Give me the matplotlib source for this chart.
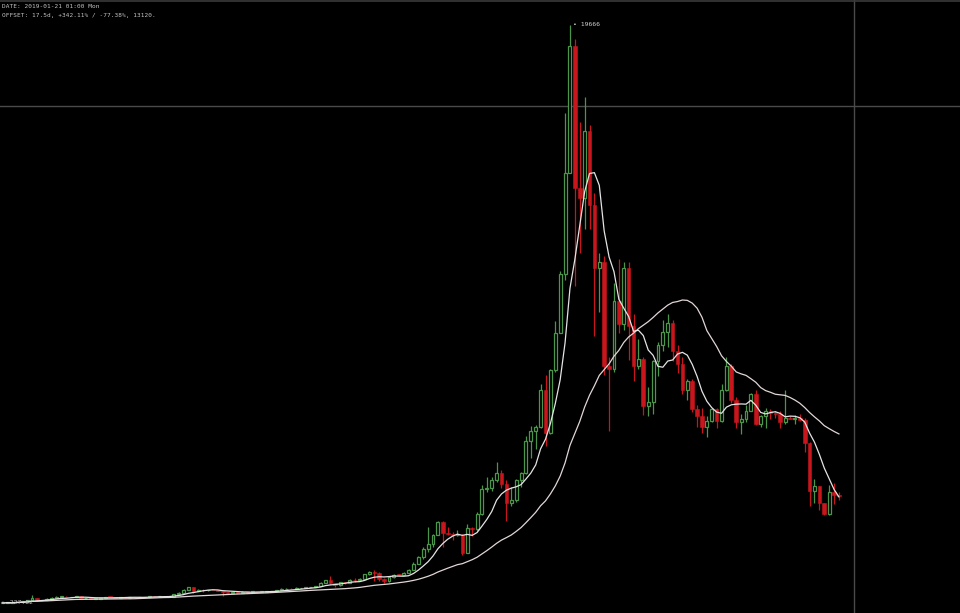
import matplotlib
matplotlib.use("Agg")
import matplotlib.pyplot as plt
import numpy as np
import pandas as pd

# Weekly candles, first week 2015-09-21, last week 2018-12-31
opens = [231, 234, 238, 247, 262, 285, 325, 385, 325, 323, 370, 395, 435, 440, 422,
         431, 447, 380, 402, 368, 375, 405, 437, 432, 405, 413, 410, 425, 420, 421,
         428, 460, 450, 458, 455, 440, 528, 575, 670, 760, 630, 660, 650, 680, 660,
         625, 590, 570, 580, 572, 608, 605, 608, 602, 612, 615, 640, 655, 700, 710,
         700, 730, 732, 765, 770, 790, 890, 1000, 905, 820, 920, 915, 1015, 1000, 1050,
         1190, 1270, 1230, 1020, 965, 1090, 1180, 1175, 1240, 1345, 1550, 1760, 2050, 2200, 2520,
         2950, 2570, 2550, 2500, 2510, 1920, 2750, 2720, 3220, 4060, 4090, 4360, 4600, 4220, 3600,
         3700, 4380, 4600, 5680, 6000, 6150, 7400, 5950, 8050, 9300, 11300, 14700, 18950, 14200, 13850,
         16100, 13600, 11500, 11700, 8200, 8100, 10400, 9600, 11500, 9550, 8200, 8450, 6850, 7000, 8350,
         8900, 9350, 9650, 8700, 8250, 7400, 7680, 6750, 6500, 6150, 6350, 6750, 6350, 7400, 8200,
         7050, 6300, 6400, 6700, 7250, 6250, 6500, 6700, 6620, 6600, 6300, 6450, 6420, 6450, 6380,
         5600, 4000, 4150, 3580, 3220, 3950, 3850]
highs = [236, 241, 250, 272, 290, 335, 500, 390, 340, 380, 420, 465, 470, 460, 435,
         458, 450, 410, 402, 380, 405, 445, 440, 440, 420, 418, 420, 425, 425, 432,
         465, 470, 465, 462, 456, 535, 585, 700, 780, 770, 705, 690, 680, 680, 660,
         625, 600, 590, 585, 615, 630, 612, 610, 615, 620, 645, 660, 720, 745, 740,
         755, 745, 775, 780, 800, 935, 1000, 1150, 910, 930, 930, 1040, 1065, 1070, 1200,
         1290, 1330, 1260, 1060, 1100, 1210, 1210, 1270, 1370, 1600, 1800, 2100, 2790, 2550, 2980,
         2975, 2780, 2600, 2670, 2540, 2900, 2800, 3290, 4200, 4480, 4460, 4980, 4700, 4350, 4120,
         4400, 4620, 5850, 6190, 6200, 7600, 7900, 8100, 9700, 11400, 16700, 19666, 19200, 16400, 17250,
         16300, 14000, 12000, 11900, 8500, 11000, 11800, 11700, 11700, 9950, 9100, 8500, 7500, 8400, 9000,
         9750, 9950, 9750, 8900, 8500, 7750, 7750, 6900, 6800, 6500, 6800, 6800, 7600, 8500, 8250,
         7150, 6600, 6900, 7300, 7400, 6550, 6800, 6750, 6700, 6700, 7400, 6500, 6550, 6600, 6450,
         5650, 4400, 4150, 3600, 4200, 4250, 3950]
lows = [227.82, 233, 236, 245, 260, 280, 320, 300, 310, 315, 355, 390, 430, 415, 420,
        425, 365, 370, 365, 365, 370, 400, 415, 400, 400, 405, 408, 410, 415, 418,
        425, 440, 440, 445, 435, 435, 515, 570, 650, 550, 620, 610, 645, 650, 620,
        480, 565, 565, 565, 565, 600, 600, 590, 600, 605, 612, 630, 650, 680, 700,
        695, 725, 725, 750, 765, 788, 885, 880, 750, 815, 880, 910, 920, 980, 1050,
        1170, 980, 960, 890, 930, 1080, 1160, 1170, 1230, 1340, 1530, 1700, 1950, 2100, 2500,
        2100, 2500, 2330, 2480, 1840, 1920, 2480, 2650, 3200, 3950, 3990, 4300, 4100, 2980, 3500,
        3630, 4140, 4550, 5100, 5400, 6100, 5500, 5900, 8000, 9300, 11100, 14700, 10900, 12000, 12800,
        12800, 9200, 10000, 7900, 6000, 8000, 9300, 9400, 8400, 7700, 8100, 6550, 6500, 6600, 7850,
        8700, 8850, 8350, 7950, 7250, 7050, 6650, 6150, 5950, 5800, 6300, 6100, 6300, 7350, 6950,
        6100, 5900, 6300, 6700, 6200, 6150, 6100, 6400, 6450, 6100, 6250, 6400, 6250, 6350, 5300,
        3500, 3600, 3350, 3200, 3200, 3550, 3700]
closes = [234, 238, 247, 262, 285, 325, 385, 325, 323, 370, 395, 435, 440, 422, 431,
          447, 380, 402, 368, 375, 405, 437, 432, 405, 413, 410, 425, 420, 421, 428,
          460, 450, 458, 455, 440, 528, 575, 670, 760, 630, 660, 650, 680, 660, 625,
          590, 570, 580, 572, 608, 605, 608, 602, 612, 615, 640, 655, 700, 710, 700,
          730, 732, 765, 770, 790, 890, 1000, 905, 820, 920, 915, 1015, 1000, 1050, 1190,
          1270, 1230, 1020, 965, 1090, 1180, 1175, 1240, 1345, 1550, 1760, 2050, 2200, 2520, 2950,
          2570, 2550, 2500, 2510, 1920, 2750, 2720, 3220, 4060, 4090, 4360, 4600, 4220, 3600, 3700,
          4380, 4600, 5680, 6000, 6150, 7400, 5950, 8050, 9300, 11300, 14700, 18950, 14200, 13850, 16100,
          13600, 11500, 11700, 8200, 8100, 10400, 9600, 11500, 9550, 8200, 8450, 6850, 7000, 8350, 8900,
          9350, 9650, 8700, 8250, 7400, 7680, 6750, 6500, 6150, 6350, 6750, 6350, 7400, 8200, 7050,
          6300, 6400, 6700, 7250, 6250, 6500, 6700, 6620, 6600, 6300, 6450, 6420, 6450, 6380, 5600,
          4000, 4150, 3580, 3220, 3950, 3850, 3820]

fast_window = 7
slow_window = 28
peak_label = "19666"
low_label = "227.82"
info_lines = ["DATE: 2019-01-21 01:00 Mon",
              "OFFSET: 17.5d, +342.11% / -77.38%, 13120."]
cross_week = 174      # crosshair position (week index)
cross_price = 16930   # crosshair level

o = np.array(opens, float); h = np.array(highs, float)
l = np.array(lows, float); c = np.array(closes, float)
n = len(c)
x = np.arange(n)

fast = pd.Series(c).rolling(fast_window, min_periods=1).mean()
slow = pd.Series(c).rolling(slow_window, min_periods=1).mean()

fig = plt.figure(figsize=(9.6, 6.13), dpi=100, facecolor="black")
ax = fig.add_axes([0, 0, 1, 1])
ax.set_facecolor("black")
ax.set_xlim(-0.55, 195.76)
ax.set_ylim(-108.5, 20506)
ax.axis("off")

GREEN = "#4a964a"
RED = "#c8161c"
w = 0.6
up = c >= o
# wicks
ax.vlines(x[up], l[up], h[up], color=GREEN, lw=0.9, zorder=2)
ax.vlines(x[~up], l[~up], h[~up], color=RED, lw=0.9, zorder=2)
# bodies
bh = np.maximum(np.abs(c - o), 15)
ax.bar(x[up], bh[up], bottom=np.minimum(o, c)[up], width=w, facecolor="black",
       edgecolor=GREEN, linewidth=0.9, zorder=3)
ax.bar(x[~up], bh[~up], bottom=np.minimum(o, c)[~up], width=w + 0.15, facecolor=RED,
       edgecolor=RED, linewidth=0.4, zorder=3)

ax.plot(x, slow, color="#e2d6d6", lw=0.9, zorder=4)
ax.plot(x, fast, color="#e4e4e4", lw=0.9, zorder=4)

# crosshair
ax.axvline(cross_week, color="#4a4a4a", lw=1.0, zorder=1)
ax.axhline(cross_price, color="#4a4a4a", lw=1.0, zorder=1)
ax.axhline(20470, color="#3a3a3a", lw=1.2, zorder=1)

mono = "DejaVu Sans Mono"
ipk = int(np.argmax(h))
ax.text(ipk + 0.6, h[ipk], "\u2022 " + peak_label, color="#cfcfcf", fontsize=4.6,
        family=mono, va="center", ha="left", zorder=5)
ax.text(-0.1, l.min(), "\u2190 " + low_label, color="#bdbdbd", fontsize=4.6,
        family=mono, va="center", ha="left", zorder=5)
fig.text(2 / 960, 1 - 6 / 613, info_lines[0], color="#c4c4c4", fontsize=4.4,
         family=mono, va="center", ha="left")
fig.text(2 / 960, 1 - 15 / 613, info_lines[1], color="#c4c4c4", fontsize=4.4,
         family=mono, va="center", ha="left")

fig.savefig("out.png", dpi=100, facecolor="black")
